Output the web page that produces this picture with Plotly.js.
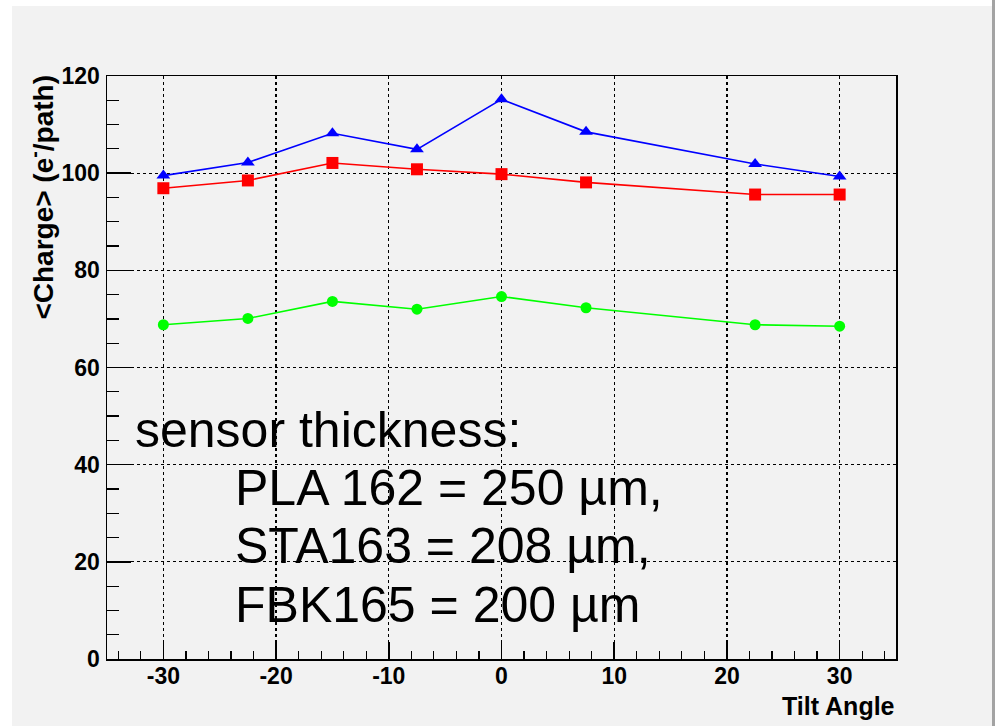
<!DOCTYPE html>
<html>
<head>
<meta charset="utf-8">
<script src="https://cdn.plot.ly/plotly-3.0.1.min.js"></script>
<style>
  html, body { margin: 0; padding: 0; background: #ffffff; width: 995px; height: 726px; overflow: hidden; }
  #chart { position: absolute; left: 12px; top: 6px; width: 980px; height: 720px; }
  #edge { position: absolute; left: 992px; top: 0; width: 3px; height: 726px; background: #a3a3a3; }
</style>
</head>
<body>
<div id="chart"></div>
<div id="edge"></div>
<script>
// ---- data ----
const tiltAngles = [-30, -22.5, -15, -7.5, 0, 7.5, 22.5, 30];
const chargePLA162 = [99.5, 102.2, 108.2, 104.9, 115.2, 108.5, 101.9, 99.3];  // blue triangles
const chargeSTA163 = [96.9, 98.5, 102.1, 100.8, 99.8, 98.1, 95.6, 95.6];     // red squares
const chargeFBK165 = [68.8, 70.1, 73.6, 72.0, 74.6, 72.3, 68.8, 68.5];       // green circles

const xTickVals = [-30, -20, -10, 0, 10, 20, 30];
const xTickText = ["-30", "-20", "-10", "0", "10", "20", "30"];
const yTickVals = [0, 20, 40, 60, 80, 100, 120];
const yTickText = ["0", "20", "40", "60", "80", "100", "120"];

const xTitle = "Tilt Angle";
const yTitle = "&lt;Charge&gt; (e<sup>-</sup>/path)";
const noteLines = ["sensor thickness:", "PLA 162 = 250 µm,", "STA163 = 208 µm,", "FBK165 = 200 µm"];

const FONT = "'Liberation Sans', Arial, Helvetica, sans-serif";
const BG = "#f2f2f2";

const traces = [
  { x: tiltAngles, y: chargePLA162, name: "PLA 162", mode: "lines+markers",
    line: { color: "#0000ff", width: 1.6 },
    marker: { symbol: "triangle-up", size: 12, color: "#0000ff" } },
  { x: tiltAngles, y: chargeSTA163, name: "STA163", mode: "lines+markers",
    line: { color: "#ff0000", width: 1.6 },
    marker: { symbol: "square", size: 12, color: "#ff0000" } },
  { x: tiltAngles, y: chargeFBK165, name: "FBK165", mode: "lines+markers",
    line: { color: "#00ff00", width: 1.6 },
    marker: { symbol: "circle", size: 11, color: "#00ff00" } }
];

const tickFont = { family: FONT, size: 23, color: "#000", weight: "bold" };

const noteX = [0.0330, 0.160, 0.160, 0.160];
const noteY = [0.392, 0.293, 0.194, 0.092];
const annotations = noteLines.map((t, i) => ({
  text: t, xref: "paper", yref: "paper", x: noteX[i], y: noteY[i],
  xanchor: "left", yanchor: "middle", showarrow: false,
  font: { family: FONT, size: 50, color: "#000" }
}));
annotations.push({
  text: yTitle, xref: "paper", yref: "paper", x: 0, y: 1.005,
  xanchor: "center", yanchor: "top", xshift: -66, textangle: -90, showarrow: false,
  font: { family: FONT, size: 28, color: "#000", weight: "bold" }
});
annotations.push({
  text: xTitle, xref: "paper", yref: "paper", x: 1, y: 0,
  xanchor: "right", yanchor: "top", yshift: -31, xshift: 1, showarrow: false,
  font: { family: FONT, size: 25, color: "#000", weight: "bold" }
});

const layout = {
  width: 980, height: 720,
  paper_bgcolor: BG, plot_bgcolor: BG,
  margin: { l: 95, r: 96, t: 70, b: 67 },
  showlegend: false,
  font: { family: FONT, color: "#000" },
  xaxis: {
    range: [-35, 35], tickmode: "array", tickvals: xTickVals, ticktext: xTickText,
    ticks: "inside", ticklen: 17, tickwidth: 1.5, tickcolor: "#000",
    minor: { tickmode: "linear", dtick: 2, tick0: 0, ticks: "inside", ticklen: 8, tickwidth: 1.2, tickcolor: "#000", showgrid: false },
    showline: true, mirror: true, linecolor: "#000", linewidth: 1.5,
    showgrid: true, gridcolor: "#000", griddash: "dot", gridwidth: 1.2,
    zeroline: false, tickfont: tickFont, ticklabelstandoff: -4
  },
  yaxis: {
    range: [0, 120], tickmode: "array", tickvals: yTickVals, ticktext: yTickText,
    ticks: "inside", ticklen: 24, tickwidth: 1.5, tickcolor: "#000",
    minor: { tickmode: "linear", dtick: 5, tick0: 0, ticks: "inside", ticklen: 12, tickwidth: 1.2, tickcolor: "#000", showgrid: false },
    showline: true, mirror: true, linecolor: "#000", linewidth: 1.5,
    showgrid: true, gridcolor: "#000", griddash: "dot", gridwidth: 1.2,
    zeroline: false, tickfont: tickFont, ticklabelstandoff: 1
  },
  annotations: annotations
};

Plotly.newPlot("chart", traces, layout, { displayModeBar: false, staticPlot: true });
</script>
</body>
</html>
